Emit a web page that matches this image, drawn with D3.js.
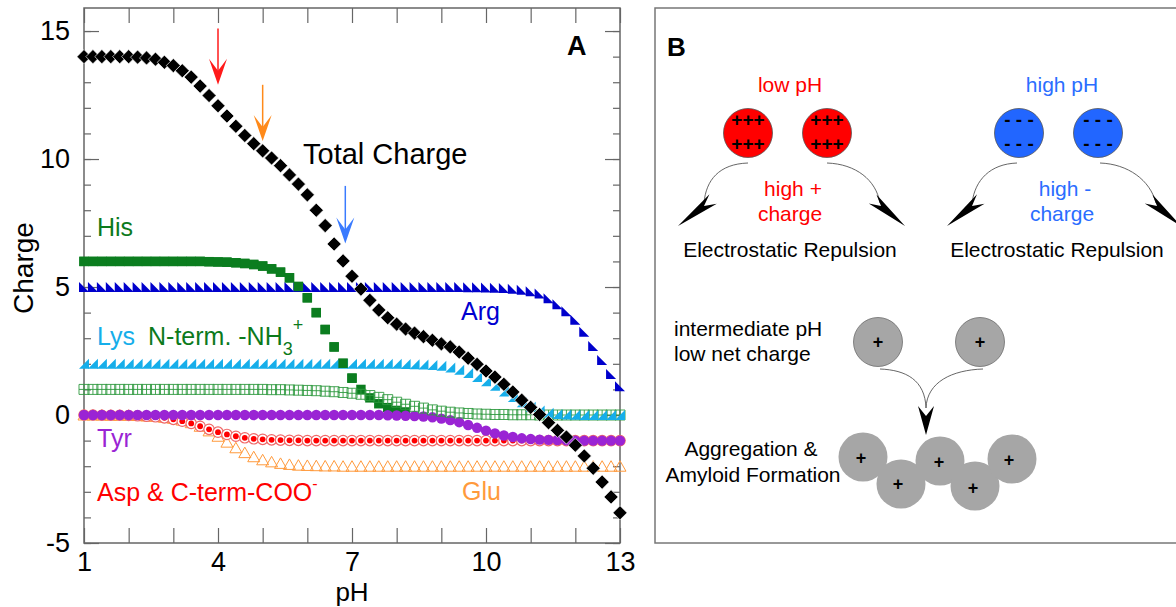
<!DOCTYPE html>
<html lang="en">
<head>
<meta charset="utf-8">
<script src="https://cdn.jsdelivr.net/npm/d3@7"></script>
<style>
  body { margin: 0; background: #fff; }
  svg { display: block; font-family: "Liberation Sans", Arial, sans-serif; }
</style>
</head>
<body>
<svg id="chart" width="1176" height="607"></svg>
<script>
// pH grid, every 0.2
var phValues = [1.0,1.2,1.4,1.6,1.8,2.0,2.2,2.4,2.6,2.8,3.0,3.2,3.4,3.6,3.8,4.0,4.2,4.4,4.6,4.8,5.0,
  5.2,5.4,5.6,5.8,6.0,6.2,6.4,6.6,6.8,7.0,7.2,7.4,7.6,7.8,8.0,8.2,8.4,8.6,8.8,9.0,
  9.2,9.4,9.6,9.8,10.0,10.2,10.4,10.6,10.8,11.0,11.2,11.4,11.6,11.8,12.0,12.2,12.4,12.6,12.8,13.0];

// charge
var totalCharge = [14,14,14,14,14,14,
  13.98,13.95,13.9,13.78,13.65, 13.45,13.2,12.85,12.48,12.08, 11.68,11.28,10.92,10.6,10.32,
  10.04,9.74,9.38,9.02,8.6, 8.0,7.4,6.68,6.02,5.42, 4.92,4.48,4.1,3.8,3.55,
  3.36,3.2,3.06,2.92,2.78, 2.66,2.46,2.22,1.98,1.72, 1.48,1.2,0.9,0.58,0.3,
  0.02,-0.3,-0.6,-0.86,-1.18, -1.6,-2.08,-2.62,-3.2,-3.82];
// His is not shown once it has fallen under the other series
var hisCharge = [6,6,6,6,6,6, 6,6,6,6,6, 6,6,6,5.99,5.98, 5.97,5.95,5.92,5.88,5.82,
  5.71,5.58,5.36,5.02,4.58, 4.0,3.34,2.66,2.02,1.44, 1.0,0.67,0.44,0.29,0.18,
  0.12,null,null,null,null, null,null,null,null,null, null,null,null,null,null,
  null,null,null,null,null, null,null,null,null,null];
var ntermCharge = [1,1,1,1,1,1, 1,1,1,1,1, 1,1,1,1,1, 1,1,1,1,1,
  0.99,0.99,0.98,0.97,0.96, 0.95,0.93,0.91,0.88,0.85, 0.81,0.76,0.69,0.6,0.5,
  0.42,0.34,0.27,0.2,0.15, 0.11,0.08,0.06,0.04,0.03, 0.02,0.02,0.01,0.01,0.01,
  0,0,0,0,0, 0,0,0,0,0];
var lysCharge = [2,2,2,2,2,2, 2,2,2,2,2, 2,2,2,2,2, 2,2,2,2,2,
  2,2,2,2,2, 2,2,2,2,2, 2,2,2,2,2,
  1.99,1.98,1.97,1.95,1.92, 1.86,1.77,1.64,1.48,1.32, 1.14,0.92,0.7,0.5,0.32,
  0.18,0.09,0.04,0.02,0.01, 0,0,0,0,0];
var argCharge = [5,5,5,5,5,5, 5,5,5,5,5, 5,5,5,5,5, 5,5,5,5,5,
  5,5,5,5,5, 5,5,5,5,5, 5,5,5,5,5, 5,5,5,5,5,
  5,5,4.99,4.99,4.98, 4.97,4.96,4.93,4.89,4.83,
  4.75,4.56,4.33,4.05,3.72, 3.25,2.7,2.15,1.6,1.12];
var tyrCharge = [0,0,0,0,0,0, 0,0,0,0,0, 0,0,0,0,0, 0,0,0,0,0,
  0,0,0,0,0, 0,0,0,0,0, 0,0,0,-0.01,-0.02,
  -0.03,-0.04,-0.06,-0.09,-0.14, -0.2,-0.28,-0.39,-0.5,-0.61, -0.72,-0.8,-0.86,-0.91,-0.94,
  -0.96,-0.97,-0.98,-0.99,-1, -1,-1,-1,-1,-1];
var aspCharge = [0,0,-0.01,-0.01,-0.01,-0.02, -0.03,-0.05,-0.07,-0.11,-0.17,
  -0.24,-0.33,-0.44,-0.56,-0.67, -0.76,-0.83,-0.89,-0.93,-0.95,
  -0.97,-0.98,-0.99,-0.99,-1, -1,-1,-1,-1,-1, -1,-1,-1,-1,-1,
  -1,-1,-1,-1,-1, -1,-1,-1,-1,-1, -1,-1,-1,-1,-1, -1,-1,-1,-1,-1, -1,-1,-1,-1,-1];
var gluCharge = [0,0,0,-0.01,-0.01,-0.01, -0.02,-0.04,-0.05,-0.09,-0.13,
  -0.2,-0.3,-0.44,-0.62,-0.83, -1.06,-1.28,-1.47,-1.63,-1.75,
  -1.83,-1.89,-1.93,-1.96,-1.97, -1.98,-1.99,-1.99,-2,-2, -2,-2,-2,-2,-2,
  -2,-2,-2,-2,-2, -2,-2,-2,-2,-2, -2,-2,-2,-2,-2, -2,-2,-2,-2,-2, -2,-2,-2,-2,-2];

var xLabelTicks = [1, 4, 7, 10, 13];
var yLabelTicks = [-5, 0, 5, 10, 15];
// arrows marking pH 4, 5 and 6.85 on the total charge curve: [pH, top charge, tip charge]
var markArrows = [[4.0, 15.1, 12.9, "#ff1a1a"], [5.0, 12.9, 10.7, "#ff8a1a"], [6.85, 8.95, 6.7, "#3a7bff"]];

var svg = d3.select("#chart");
var x = d3.scaleLinear().domain([1, 13]).range([84, 620]);
var y = d3.scaleLinear().domain([-5, 15.9]).range([543, 8]);

var intTicks = d3.range(1, 14);
var yMinor = d3.range(-5, 16);

function styleAxis(g) {
  g.select(".domain").remove();
  g.selectAll("line").attr("stroke", "#666").attr("stroke-width", 1.2);
  g.attr("font-family", null).attr("font-size", 27);
  g.selectAll("text").attr("fill", "#000");
}

svg.append("g").attr("transform", "translate(0,543)")
  .call(d3.axisBottom(x).tickValues(intTicks).tickSize(-15).tickFormat("")).call(styleAxis);
svg.append("g").attr("transform", "translate(0,543)")
  .call(d3.axisBottom(x).tickValues(xLabelTicks).tickSize(0).tickPadding(9).tickFormat(function (d) { return String(d); }))
  .call(styleAxis);
svg.append("g").attr("transform", "translate(0,8)")
  .call(d3.axisTop(x).tickValues(intTicks).tickSize(-15).tickFormat("")).call(styleAxis);
svg.append("g").attr("transform", "translate(84,0)")
  .call(d3.axisLeft(y).tickValues(yMinor).tickSize(-7).tickFormat("")).call(styleAxis);
svg.append("g").attr("transform", "translate(84,0)")
  .call(d3.axisLeft(y).tickValues(yLabelTicks).tickSize(-15).tickPadding(14).tickFormat(function (d) { return String(d); }))
  .call(styleAxis);
svg.append("g").attr("transform", "translate(620,0)")
  .call(d3.axisRight(y).tickValues(yMinor).tickSize(-7).tickFormat("")).call(styleAxis);
svg.append("g").attr("transform", "translate(620,0)")
  .call(d3.axisRight(y).tickValues(yLabelTicks).tickSize(-15).tickFormat("")).call(styleAxis);

svg.append("rect").attr("x", 84).attr("y", 8).attr("width", 536).attr("height", 535)
  .attr("fill", "none").attr("stroke", "#666").attr("stroke-width", 1.5);

function pts(vals) {
  return phValues.map(function (p, i) { return {p: p, v: vals[i]}; })
    .filter(function (d) { return d.v != null; });
}
function tr(d) { return "translate(" + x(d.p) + "," + y(d.v) + ")"; }

var marks = svg.append("g");

// Glu: hollow up triangles
marks.append("g").selectAll("path").data(pts(gluCharge)).join("path")
  .attr("transform", tr).attr("d", "M0,-5.5L6,5L-6,5Z")
  .attr("fill", "none").attr("stroke", "#ff9a3c").attr("stroke-width", 1);

// Asp & C-term: ring with dot
var asp = marks.append("g").selectAll("g").data(pts(aspCharge)).join("g").attr("transform", tr);
asp.append("circle").attr("r", 5.2).attr("fill", "#fff").attr("stroke", "#f06868").attr("stroke-width", 1.2);
asp.append("circle").attr("r", 2.9).attr("fill", "#ff0000");

// His: filled squares (under the hollow squares)
marks.append("g").selectAll("rect").data(pts(hisCharge)).join("rect")
  .attr("x", function (d) { return x(d.p) - 4.7; }).attr("y", function (d) { return y(d.v) - 4.7; })
  .attr("width", 9.4).attr("height", 9.4).attr("fill", "#0b7d1f");

// Tyr
marks.append("g").selectAll("circle").data(pts(tyrCharge)).join("circle")
  .attr("cx", function (d) { return x(d.p); }).attr("cy", function (d) { return y(d.v); })
  .attr("r", 5.2).attr("fill", "#9a24d4");

// N-term: crossed hollow squares
marks.append("g").selectAll("path").data(pts(ntermCharge)).join("path")
  .attr("transform", tr).attr("d", "M-5,-5H5V5H-5ZM0,-5V5M-5,0H5")
  .attr("fill", "none").attr("stroke", "#2f9a40").attr("stroke-width", 0.9);

// Lys: right triangles
marks.append("g").selectAll("path").data(pts(lysCharge)).join("path")
  .attr("transform", tr).attr("d", "M-5,5L5,5L5,-5Z").attr("fill", "#16aeea");

// Arg
marks.append("g").selectAll("path").data(pts(argCharge)).join("path")
  .attr("transform", tr).attr("d", "M-5,-5L-5,5L5,5Z").attr("fill", "#0000cc");

// His on top where it crosses Arg and Lys
marks.append("g").selectAll("rect").data(pts(hisCharge).filter(function (d) { return d.v > 1.2; })).join("rect")
  .attr("x", function (d) { return x(d.p) - 4.7; }).attr("y", function (d) { return y(d.v) - 4.7; })
  .attr("width", 9.4).attr("height", 9.4).attr("fill", "#0b7d1f");

// Total charge: diamonds
marks.append("g").selectAll("path").data(pts(totalCharge)).join("path")
  .attr("transform", function (d) { return tr(d) + " rotate(45)"; })
  .attr("d", "M-5,-5H5V5H-5Z")
  .attr("fill", "#000").attr("stroke", "#fff").attr("stroke-width", 0.6);

// marker arrows
markArrows.forEach(function (a) {
  var ax = x(a[0]), y0 = y(a[1]), y1 = y(a[2]);
  svg.append("line").attr("x1", ax).attr("x2", ax).attr("y1", y0).attr("y2", y1 - 12)
    .attr("stroke", a[3]).attr("stroke-width", 1.5);
  svg.append("path")
    .attr("d", "M" + ax + "," + y1 + "L" + (ax - 9) + "," + (y1 - 26) + "L" + ax + "," + (y1 - 14) + "L" + (ax + 9) + "," + (y1 - 26) + "Z")
    .attr("fill", a[3]);
});

// labels in panel A
function label(txt, lx, ly, color, size, weight) {
  return svg.append("text").attr("x", lx).attr("y", ly).attr("fill", color)
    .attr("font-size", size).attr("font-weight", weight || "normal").text(txt);
}
label("A", 567, 55, "#000", 27, "bold");
label("Total Charge", 303, 164, "#000", 29);
label("His", 97, 236, "#0c7a1c", 25);
label("Arg", 461, 320, "#0000d0", 25);
label("Lys", 97, 345, "#16aeea", 25);
var nt = label("N-term. -NH", 148, 345, "#0c7a1c", 25);
nt.append("tspan").attr("font-size", 18).attr("dy", 10).text("3");
nt.append("tspan").attr("font-size", 18).attr("dy", -24).text("+");
label("Tyr", 97, 447, "#9a24d4", 25);
var asl = label("Asp & C-term-COO", 97, 501, "#ff0000", 25);
asl.append("tspan").attr("font-size", 16).attr("dy", -12).text("-");
label("Glu", 462, 500, "#ff9a3c", 25);

svg.append("text").attr("transform", "translate(33,268) rotate(-90)")
  .attr("text-anchor", "middle").attr("font-size", 28).text("Charge");
svg.append("text").attr("x", 352).attr("y", 601).attr("text-anchor", "middle")
  .attr("font-size", 26).text("pH");

// ---------- panel B ----------
var pb = svg.append("g");
pb.append("rect").attr("x", 655).attr("y", 8).attr("width", 560).attr("height", 535)
  .attr("fill", "none").attr("stroke", "#777").attr("stroke-width", 1.5);
pb.append("text").attr("x", 667).attr("y", 56).attr("font-size", 26).attr("font-weight", "bold").text("B");

function ctext(txt, cx, cy, color, size, weight) {
  return pb.append("text").attr("x", cx).attr("y", cy).attr("text-anchor", "middle")
    .attr("fill", color).attr("font-size", size).attr("font-weight", weight || "normal").text(txt);
}
function arrowHead(bx, by, tx, ty, half) {
  var dx = tx - bx, dy = ty - by, len = Math.sqrt(dx * dx + dy * dy);
  var ux = dx / len, uy = dy / len, nx = -uy, ny = ux;
  var back = 1.35;
  var p1 = [tx - ux * len * back + nx * half, ty - uy * len * back + ny * half];
  var p2 = [tx - ux * len * back - nx * half, ty - uy * len * back - ny * half];
  pb.append("path").attr("d", "M" + tx + "," + ty + "L" + p1 + "L" + bx + "," + by + "L" + p2 + "Z").attr("fill", "#000");
}
function curve(d) {
  pb.append("path").attr("d", d).attr("fill", "none").attr("stroke", "#555").attr("stroke-width", 0.9);
}

ctext("low pH", 790, 92, "#ff0000", 21);
ctext("high pH", 1062, 92, "#2a6dff", 21);
[[748, "#ff0000", "+++"], [827, "#ff0000", "+++"], [1019, "#2266ff", "- - -"], [1098, "#2266ff", "- - -"]].forEach(function (c) {
  pb.append("circle").attr("cx", c[0]).attr("cy", 133).attr("r", 24.5)
    .attr("fill", c[1]).attr("stroke", "#555").attr("stroke-width", 0.8);
  ctext(c[2], c[0], 126, "#000", 19, "bold");
  ctext(c[2], c[0], 150, "#000", 19, "bold");
});

curve("M748,163C719,164 706,180 704,203");
arrowHead(704, 206, 678, 226, 6);
curve("M827,163C856,164 876,180 880,203");
arrowHead(881, 206, 905, 226, 6);
curve("M1017,163C990,164 975,180 972,203");
arrowHead(972, 206, 947, 226, 6);
curve("M1100,163C1128,164 1150,180 1156,203");
arrowHead(1157, 206, 1181, 226, 6);

ctext("high +", 793, 196, "#ff0000", 21);
ctext("charge", 790, 221, "#ff0000", 21);
ctext("high -", 1065, 196, "#2a6dff", 21);
ctext("charge", 1062, 221, "#2a6dff", 21);
ctext("Electrostatic Repulsion", 790, 257, "#000", 21);
ctext("Electrostatic Repulsion", 1057, 257, "#000", 21);

pb.append("text").attr("x", 674).attr("y", 336).attr("font-size", 21).text("intermediate pH");
pb.append("text").attr("x", 674).attr("y", 361).attr("font-size", 21).text("low net charge");
[878, 980].forEach(function (cx) {
  pb.append("circle").attr("cx", cx).attr("cy", 342).attr("r", 24.5)
    .attr("fill", "#a6a6a6").attr("stroke", "#6d6d6d").attr("stroke-width", 0.8);
  ctext("+", cx, 348, "#000", 18, "bold");
});
curve("M880,369C906,370 925,380 926,408");
curve("M983,369C952,370 927,382 926,408");
pb.append("path").attr("d", "M926,435L918,406L926,416L934,406Z").attr("fill", "#000");

ctext("Aggregation &", 751, 456, "#000", 21);
ctext("Amyloid Formation", 753, 482, "#000", 21);
[[863, 457], [901, 484], [940, 461], [975, 486], [1012, 459]].forEach(function (c) {
  pb.append("circle").attr("cx", c[0]).attr("cy", c[1]).attr("r", 24.5).attr("fill", "#a6a6a6");
});
[[861, 464], [898, 490], [939, 468], [973, 494], [1009, 466]].forEach(function (c) {
  ctext("+", c[0], c[1], "#000", 18, "bold");
});
</script>
</body>
</html>
